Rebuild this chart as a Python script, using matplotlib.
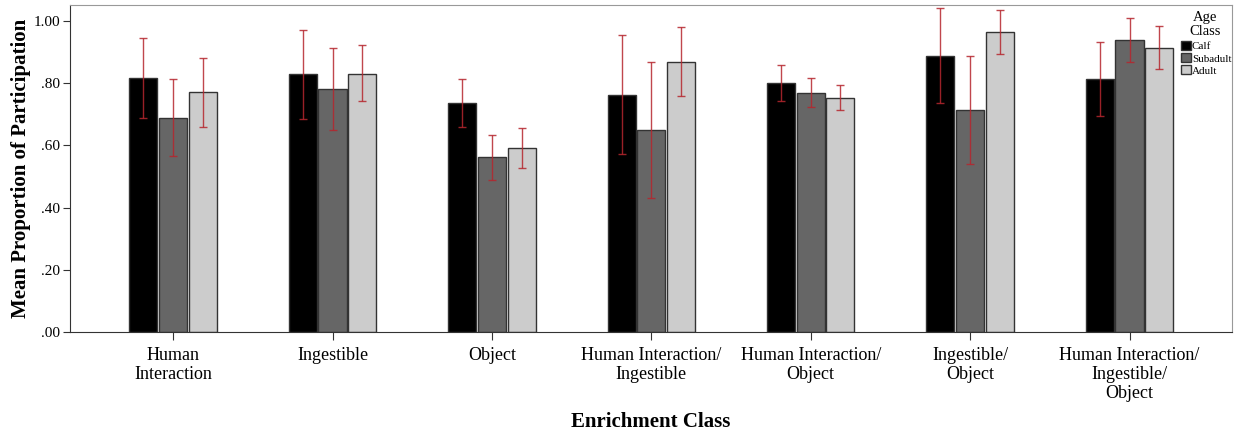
#!/usr/bin/env python3
"""
Mean proportion of participation by enrichment class and age class.
"""

import matplotlib
matplotlib.use("Agg")
import matplotlib.pyplot as plt
import numpy as np
from matplotlib.ticker import FuncFormatter

enrichment = [
    "Human\nInteraction",
    "Ingestible",
    "Object",
    "Human Interaction/\nIngestible",
    "Human Interaction/\nObject",
    "Ingestible/\nObject",
    "Human Interaction/\nIngestible/\nObject",
]
age_classes = ["Calf", "Subadult", "Adult"]

# means per age class, one value per enrichment class
calf = [0.818, 0.829, 0.738, 0.762, 0.801, 0.889, 0.815]
subadult = [0.690, 0.782, 0.562, 0.651, 0.769, 0.715, 0.940]
adult = [0.771, 0.831, 0.592, 0.869, 0.754, 0.966, 0.914]

# error bar ends (lower, upper)
calf_lo = [0.689, 0.685, 0.660, 0.571, 0.744, 0.736, 0.695]
calf_hi = [0.945, 0.972, 0.814, 0.954, 0.859, 1.043, 0.934]
subadult_lo = [0.567, 0.651, 0.488, 0.430, 0.723, 0.540, 0.870]
subadult_hi = [0.813, 0.913, 0.635, 0.870, 0.817, 0.888, 1.010]
adult_lo = [0.661, 0.742, 0.527, 0.758, 0.713, 0.894, 0.845]
adult_hi = [0.881, 0.923, 0.656, 0.982, 0.796, 1.037, 0.983]

plt.rcParams["font.family"] = ["Liberation Serif", "DejaVu Serif"]

fig = plt.figure(figsize=(12.34, 4.33), dpi=100)
ax = fig.add_axes([0.0567, 0.2333, 0.9413, 0.7552])

x = np.arange(len(enrichment))
width = 0.176
offset = 0.186
colors = ["#000000", "#666666", "#cccccc"]
err_color = "#b5262e"

series = [
    (calf, calf_lo, calf_hi),
    (subadult, subadult_lo, subadult_hi),
    (adult, adult_lo, adult_hi),
]

for i, (means, lo, hi) in enumerate(series):
    means = np.array(means)
    yerr = [means - np.array(lo), np.array(hi) - means]
    xpos = x + (i - 1) * offset
    ax.bar(xpos, means, width, color=colors[i], edgecolor="#333333",
           linewidth=1.0, label=age_classes[i], zorder=2)
    ax.errorbar(xpos, means, yerr=yerr, fmt="none", ecolor=err_color,
                elinewidth=1.0, capsize=3, capthick=1.0, alpha=0.85, zorder=3)

ax.set_xlim(-0.647, 6.64)
ax.set_ylim(0, 1.052)
ax.set_yticks([0, 0.2, 0.4, 0.6, 0.8, 1.0])
ax.yaxis.set_major_formatter(FuncFormatter(lambda v, p: f"{v:.2f}".lstrip("0") if v < 1 else f"{v:.2f}"))
ax.set_xticks(x)
ax.set_xticklabels(enrichment, fontsize=13, linespacing=1.15)
ax.tick_params(axis="y", labelsize=11, direction="out", length=5, color="#333333", pad=2)
ax.tick_params(axis="x", direction="out", length=6, color="#333333", pad=5)

for side in ["left", "bottom"]:
    ax.spines[side].set_color("#333333")
for side in ["top", "right"]:
    ax.spines[side].set_color("#999999")

ax.set_ylabel("Mean Proportion of Participation", fontsize=15, fontweight="bold", labelpad=2)
ax.set_xlabel("Enrichment Class", fontsize=15, fontweight="bold", labelpad=7)

# legend entries, with the two-line heading drawn above them
ax.legend(loc="upper left", bbox_to_anchor=(1180.5 / 1234, 1 - 41 / 433),
          bbox_transform=fig.transFigure, frameon=False, fontsize=8,
          handlelength=0.9, handleheight=0.9, handletextpad=0.12,
          labelspacing=0.15, borderaxespad=0, borderpad=0)
fig.text(1205.5 / 1234, 1 - 11.5 / 433, "Age\nClass", fontsize=10.5, ha="center",
         va="top", multialignment="center", linespacing=1.05)

plt.savefig("out.png", dpi=100, facecolor="white")
plt.close()
